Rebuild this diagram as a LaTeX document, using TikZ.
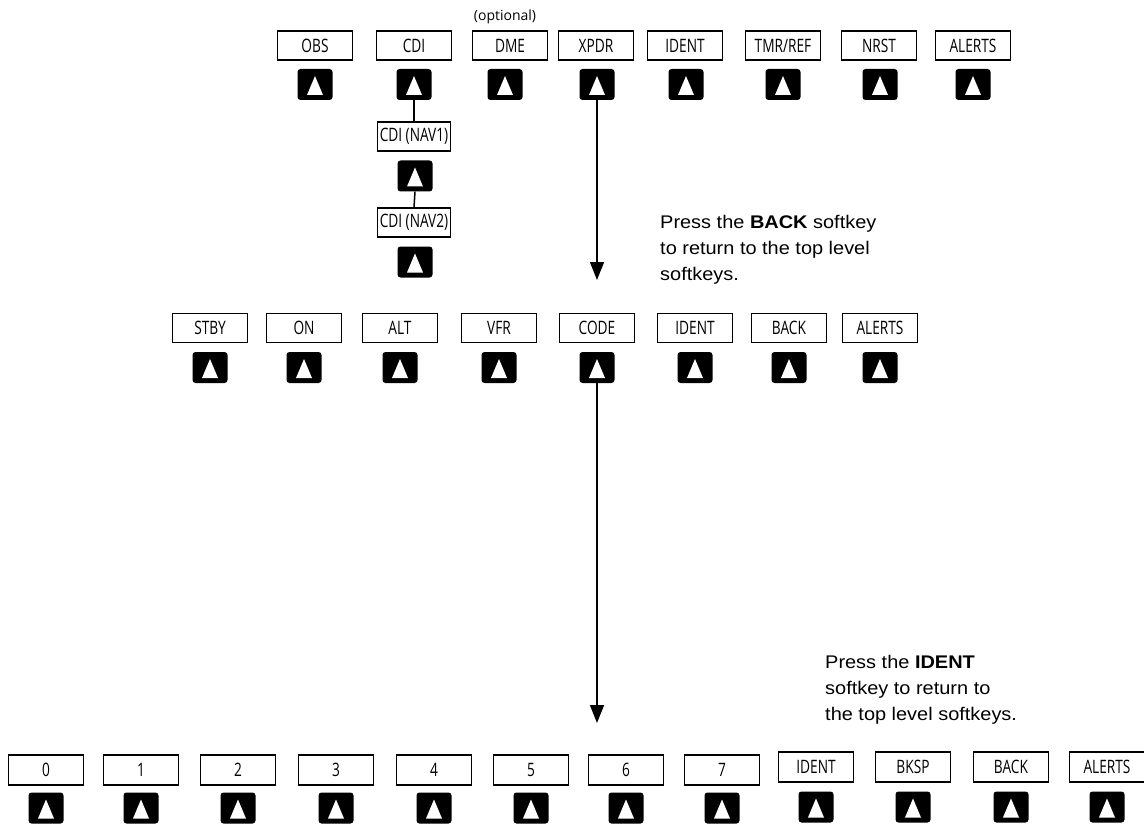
\documentclass[tikz,border=0pt]{standalone}
\usepackage{fontspec}
\setmainfont{Open Sans}
\newfontfamily\keyfont[FakeStretch=0.74]{Open Sans}
\newfontfamily\notefont[FakeStretch=1.09]{Liberation Sans}
\usetikzlibrary{arrows.meta}
\begin{document}
\begin{tikzpicture}[x=1pt,y=-1pt,
  keybox/.style={draw, line width=1.6pt, minimum width=75pt, minimum height=29pt, inner sep=0pt,
    font=\keyfont\fontsize{18.5}{18.5}\selectfont},
  btn/.style={fill=black, rounded corners=3pt, minimum width=35pt, minimum height=31pt, inner sep=0pt,
    path picture={\fill[white, sharp corners] ([yshift=8.5pt]path picture bounding box.center)
      -- ++(-8pt,-19pt) -- ++(16pt,0pt) -- cycle;}},
  link/.style={line width=1.5pt},
  flow/.style={line width=1.5pt, -{Triangle[length=18pt,width=14pt]}},
  note/.style={anchor=north west, inner sep=0pt, align=left,
    font=\notefont\fontsize{18.3}{25.8}\selectfont}]
\useasboundingbox (0,0) rectangle (1144,824);

% top row
\foreach \bx/\kx/\lab/\nm in {315/315/OBS/obs, 414/414/CDI/cdi, 510/505/DME/dme, 596/597/XPDR/xpdr,
    685/686/IDENT/identA, 783/783/{TMR/REF}/tmr, 879/880/NRST/nrst, 973/973/ALERTS/alertsA}{
  \node[keybox] (\nm) at (\bx,45.5) {\lab};
  \node[btn] (\nm-b) at (\kx,84.5) {};
}
\node[anchor=base, inner sep=0pt, font=\fontsize{14}{14}\selectfont] (opt) at (505,21) {(optional)};

% CDI sub-keys
\node[keybox, minimum width=73pt] (nav1) at (414,136.5) {CDI (NAV1)};
\node[btn] (nav1-b) at (415,176) {};
\node[keybox, minimum width=73pt] (nav2) at (414,222.5) {CDI (NAV2)};
\node[btn] (nav2-b) at (415,262) {};
\draw[link] (cdi-b.south) -- (nav1.north);
\draw[link] (nav1-b.south) -- (nav2.north);

% middle row
\foreach \bx/\lab/\nm in {210/STBY/stby, 304/ON/on, 400/ALT/alt, 499/VFR/vfr, 597/CODE/code,
    695/IDENT/identB, 789/BACK/backB, 880/ALERTS/alertsB}{
  \node[keybox] (\nm) at (\bx,328) {\lab};
  \node[btn] (\nm-b) at (\bx,367.5) {};
}

% bottom row
\foreach \bx/\lab/\nm in {46/0/k0, 141/1/k1, 238/2/k2, 336/3/k3, 434/4/k4, 531/5/k5, 626/6/k6, 722/7/k7}{
  \node[keybox, minimum height=30pt] (\nm) at (\bx,770) {\lab};
  \node[btn] (\nm-b) at (\bx,808) {};
}
\foreach \bx/\lab/\nm in {816/IDENT/identC, 913/BKSP/bksp, 1011/BACK/backC, 1107/ALERTS/alertsC}{
  \node[keybox, minimum height=30pt] (\nm) at (\bx,767) {\lab};
  \node[btn] (\nm-b) at (\bx,807) {};
}

% arrows
\coordinate (tipA) at (597,280);
\coordinate (tipB) at (597,723);
\draw[flow] (xpdr-b.south) -- (tipA);
\draw[flow] (code-b.south) -- (tipB);

% notes
\node[note] (noteA) at (660,215) {Press the \textbf{BACK} softkey\\to return to the top level\\softkeys.};
\node[note] (noteB) at (825,655.5) {Press the \textbf{IDENT}\\softkey to return to\\the top level softkeys.};
\end{tikzpicture}
\end{document}
